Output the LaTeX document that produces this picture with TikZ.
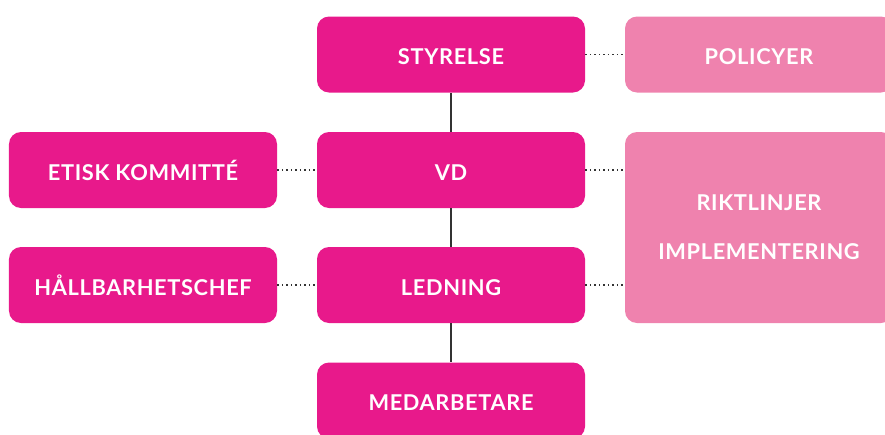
\documentclass[tikz,border=0pt]{standalone}
\usepackage{fontspec}
\setmainfont{Lato}[LetterSpace=3]
\usetikzlibrary{positioning}

\definecolor{orgpink}{HTML}{E8198B}
\definecolor{orglight}{HTML}{EF82AE}
\definecolor{orgline}{HTML}{333333}

\tikzset{
  basebox/.style={fill=orgpink, rounded corners=0.3cm, minimum width=6.7cm,
    minimum height=1.9cm, text=white, align=center,
    font=\fontsize{15.5}{18}\selectfont\bfseries},
  unitbox/.style={basebox, text height=0.5cm, text depth=0cm},
  docbox/.style={fill=orglight},
  chainline/.style={draw=orgline, line width=1.1pt},
  linkline/.style={draw=orgline, line width=1.2pt, dotted}
}

\begin{document}
\begin{tikzpicture}
% Page frame (885 x 435 px, 1 px = 0.025 cm)
\useasboundingbox (0, 0) rectangle (22.125, -10.875);

% Middle column
\node[unitbox] (styrelse) at (11.275, -1.3625) {STYRELSE};
\node[unitbox] (vd) at (11.275, -4.25) {VD};
\node[unitbox] (ledning) at (11.275, -7.125) {LEDNING};
\node[unitbox] (medarb) at (11.275, -10.0125) {MEDARBETARE};

% Left column
\node[unitbox] (etisk) at (3.575, -4.25) {ETISK KOMMITTÉ};
\node[unitbox] (hallbar) at (3.575, -7.125) {HÅLLBARHETSCHEF};

% Right column
\node[unitbox, docbox] (policyer) at (18.975, -1.3625) {POLICYER};
\node[basebox, docbox, minimum height=4.775cm] (riktlinjer) at (18.975, -5.6875)
  {RIKTLINJER\\[0.6cm]IMPLEMENTERING};

% Connectors
\draw[chainline] (styrelse) -- (vd);
\draw[chainline] (vd) -- (ledning);
\draw[chainline] (ledning) -- (medarb);
\draw[linkline] (styrelse) -- (policyer);
\draw[linkline] (etisk) -- (vd);
\draw[linkline] (hallbar) -- (ledning);
\draw[linkline] (vd.east) -- (vd.east -| riktlinjer.west);
\draw[linkline] (ledning.east) -- (ledning.east -| riktlinjer.west);
\end{tikzpicture}
\end{document}
